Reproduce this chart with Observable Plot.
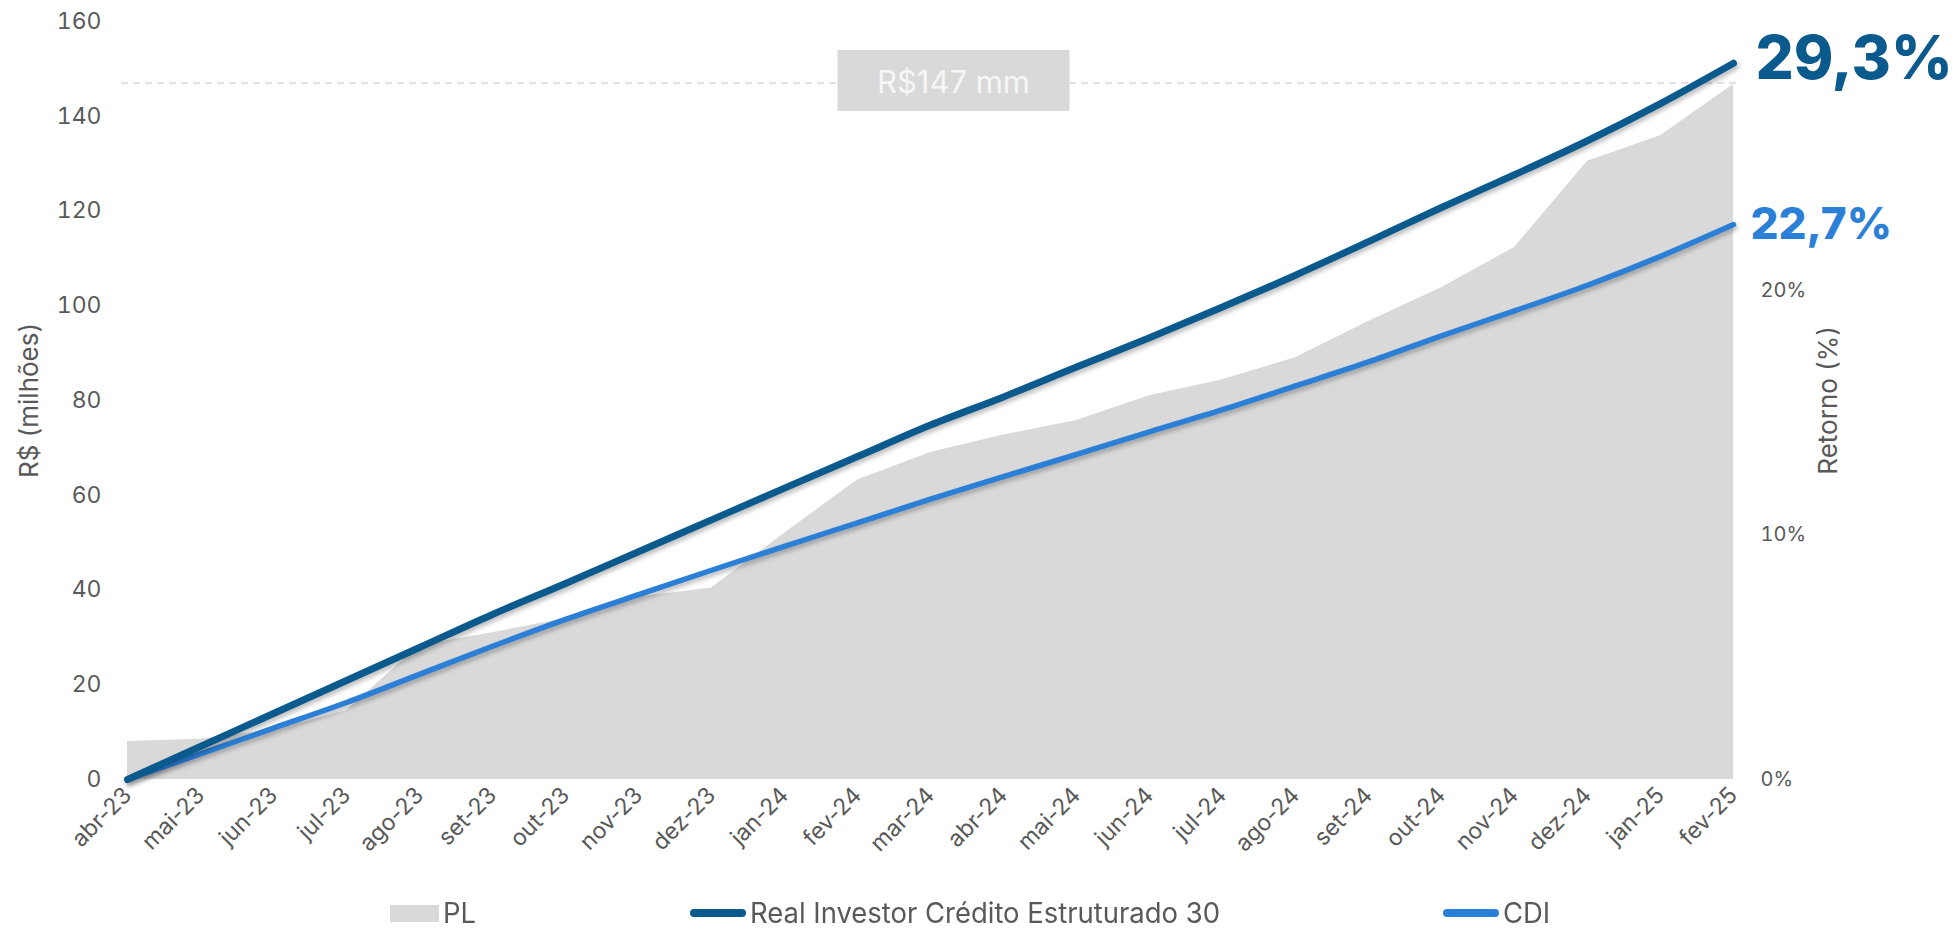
<!DOCTYPE html>
<html>
<head>
<meta charset="utf-8">
<script src="https://cdn.jsdelivr.net/npm/d3@7"></script>
<script src="https://cdn.jsdelivr.net/npm/@observablehq/plot@0.6"></script>
<style>
  html, body { margin: 0; padding: 0; background: #fff; }
  #wrap { width: 1956px; height: 929px; position: relative; overflow: hidden; font-family: Inter, "Noto Sans", sans-serif; }
  #legend { position: absolute; left: 0; top: 870px; width: 1956px; height: 59px; }
  .item { position: absolute; top: 28px; height: 30px; line-height: 30px; display: flex; align-items: center; color: #595959; font-size: 28px; white-space: nowrap; }
  .item span.lbl { display: inline-block; line-height: 30px; transform: scaleX(0.98); transform-origin: left center; margin-left: 4px; }
  .sw-area { width: 49px; height: 17px; background: #d9d9d9; }
  .sw-line { width: 56px; height: 8px; border-radius: 4px; }
</style>
</head>
<body>
<div id="wrap">
  <div id="chart"></div>
  <div id="legend"></div>
</div>
<script>
// ---- data ----
const months = ["abr-23","mai-23","jun-23","jul-23","ago-23","set-23","out-23","nov-23","dez-23",
  "jan-24","fev-24","mar-24","abr-24","mai-24","jun-24","jul-24","ago-24","set-24","out-24","nov-24","dez-24",
  "jan-25","fev-25"];
const plValues = [8.0, 8.5, 10.5, 14.5, 28.3, 31.0, 34.0, 38.5, 40.4,
  52.0, 63.2, 69.0, 72.7, 75.8, 81.0, 84.4, 89.0, 96.7, 103.8, 112.3, 130.5,
  135.9, 146.7];
const realInvestor = [0, 1.35, 2.70, 4.05, 5.40, 6.75, 8.02, 9.32, 10.62,
  11.92, 13.21, 14.50, 15.65, 16.87, 18.07, 19.33, 20.63, 22.00, 23.40, 24.74, 26.13,
  27.65, 29.3];
const cdi = [0, 1.05, 2.10, 3.15, 4.30, 5.45, 6.55, 7.56, 8.56,
  9.54, 10.50, 11.47, 12.39, 13.30, 14.22, 15.13, 16.10, 17.08, 18.15, 19.17, 20.22,
  21.40, 22.7];
const leftTicks = [0, 20, 40, 60, 80, 100, 120, 140, 160];
const rightTicks = [0, 10, 20];
const plTotal = [147];
const plTotalLabel = "R$147 mm";
const seriesNames = ["PL", "Real Investor Crédito Estruturado 30", "CDI"];
const endLabels = ["29,3%", "22,7%"];

// ---- build ----
const K = 5.16; // R$ units per 1% on the secondary axis
const DARK = "#0b5a8e", LIGHT = "#2b7fd6", GRAY = "#d9d9d9", TXT = "#595959";

const plData = months.map((m, i) => ({month: m, v: plValues[i]}));
const riData = months.map((m, i) => ({month: m, pct: realInvestor[i]}));
const cdiData = months.map((m, i) => ({month: m, pct: cdi[i]}));
const last = months.length - 1;
const riEnd = [{month: months[last], pct: realInvestor[last], label: endLabels[0]}];
const cdiEnd = [{month: months[last], pct: cdi[last], label: endLabels[1]}];

const chart = Plot.plot({
  width: 1956,
  height: 870,
  marginLeft: 121,
  marginRight: 218,
  marginTop: 21,
  marginBottom: 91,
  style: {fontFamily: "Inter, 'Noto Sans', sans-serif", color: TXT, background: "white", overflow: "visible"},
  x: {type: "point", domain: months, padding: 0},
  y: {domain: [0, 160]},
  marks: [
    Plot.areaY(plData, {x: "month", y: "v", fill: GRAY}),
    Plot.ruleY(plTotal, {stroke: GRAY, strokeDasharray: "7,5", strokeWidth: 1.5}),
    Plot.text(plTotal, {x: () => "mar-24", y: d => d, dx: 23, text: () => plTotalLabel,
      fill: "#f6f6f6", fontSize: 31, fontWeight: 400}),
    Plot.line(cdiData, {x: "month", y: d => d.pct * K, stroke: LIGHT, strokeWidth: 5.5, curve: "monotone-x", strokeLinecap: "round"}),
    Plot.line(riData, {x: "month", y: d => d.pct * K, stroke: DARK, strokeWidth: 7, curve: "monotone-x", strokeLinecap: "round"}),
    Plot.text(riEnd, {x: "month", y: d => d.pct * K, text: "label", fill: DARK, fontSize: 60,
      fontWeight: 800, textAnchor: "start", dx: 22, dy: -3}),
    Plot.text(cdiEnd, {x: "month", y: d => d.pct * K, text: "label", fill: LIGHT, fontSize: 44,
      fontWeight: 800, textAnchor: "start", dx: 17}),
    Plot.axisX({tickRotate: -45, tickSize: 0, tickPadding: 12, fontSize: 23, label: null, fill: TXT}),
    Plot.axisY({ticks: leftTicks, tickSize: 0, tickPadding: 20, fontSize: 23, label: null, fill: TXT}),
    Plot.axisY({anchor: "right", ticks: rightTicks.map(t => t * K), tickFormat: d => Math.round(d / K) + "%",
      tickSize: 0, tickPadding: 22, fontSize: 20, label: null, fill: TXT}),
    Plot.text(["R$ (milhões)"], {text: d => d, frameAnchor: "left", textAnchor: "middle", dx: -92, rotate: -90, fontSize: 26, fill: TXT}),
    Plot.text(["Retorno (%)"], {text: d => d, frameAnchor: "right", textAnchor: "middle", dx: 90, rotate: -90, fontSize: 26, fill: TXT})
  ]
});
document.getElementById("chart").appendChild(chart);

// background box behind the PL total label
d3.select(chart).selectAll("text").each(function() {
  if (this.textContent === plTotalLabel) {
    const b = this.getBBox();
    const cx = b.x + b.width / 2, cy = b.y + b.height / 2;
    const w = 232, h = 61;
    d3.select(this.parentNode).insert("rect", () => this)
      .attr("transform", this.getAttribute("transform"))
      .attr("x", cx - w / 2).attr("y", cy - h / 2 - 1).attr("width", w).attr("height", h).attr("fill", GRAY);
  }
});
// soft shadow on the lines
d3.select(chart).selectAll("g[aria-label='line']").style("filter", "drop-shadow(2px 3px 2px rgba(0,0,0,0.25))");

// legend
const legend = document.getElementById("legend");
const items = [
  {name: seriesNames[0], left: 390, sw: `<div class="sw-area"></div>`},
  {name: seriesNames[1], left: 690, sw: `<div class="sw-line" style="background:${DARK}"></div>`},
  {name: seriesNames[2], left: 1443, sw: `<div class="sw-line" style="background:${LIGHT}"></div>`}
];
for (const it of items) {
  const d = document.createElement("div");
  d.className = "item";
  d.style.left = it.left + "px";
  d.innerHTML = it.sw + `<span class="lbl">${it.name}</span>`;
  legend.appendChild(d);
}
</script>
</body>
</html>
